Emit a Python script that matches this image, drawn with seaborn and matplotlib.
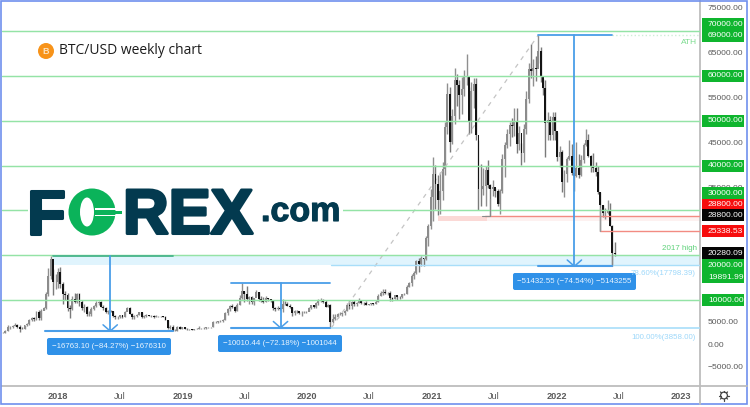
import numpy as np
import pandas as pd
import matplotlib
matplotlib.use('Agg')
import matplotlib.pyplot as plt
import matplotlib.dates as dt
import matplotlib.transforms as mtransforms
import matplotlib.patheffects as pe
from matplotlib.patches import Rectangle, Circle, Ellipse, FancyBboxPatch
import seaborn as sns

# weekly candles, first one is the week of 2017-07-24
first_open = 2700
closes = [2730, 3230, 4070, 4090, 4340, 4580, 4120, 3690, 3660, 4390, 4600, 5680, 5990, 5730, 7360, 5950, 7700, 8250, 11300, 15300, 19100, 14000, 14100,
          16200, 13700, 11500, 11100, 8200, 8100, 10300, 9600, 11400, 9500, 8200, 8500, 6900, 7000, 8000, 8800, 9300, 9700, 8500, 8200, 7300, 7700, 7500, 6500, 6200, 6300, 6700, 6250, 7400, 8200, 7000, 6300, 6400, 6700, 7300, 6200, 6500, 6700, 6600, 6600, 6300, 6450, 6480, 6400, 6370, 5550, 3900, 4000, 3200, 3200, 3980, 3700, 4050,
          3600, 3550, 3540, 3410, 3660, 3610, 3820, 3820, 3900, 3990, 3990, 4090, 5070, 5130, 5270, 5280, 5700, 7050, 8000, 8750, 8550, 7620, 8990, 10600, 11950, 11300, 10200, 10770, 9500, 10400, 11860, 10300, 10150, 9600, 10400, 10300, 10000, 8200, 8140, 8300, 7950, 9250, 9200, 8800, 8500, 7100, 7550, 7500, 7070, 7150, 7250, 7350,
          8180, 8900, 8600, 9370, 9900, 9900, 9660, 8530, 8900, 5200, 5800, 6240, 6860, 6860, 7130, 7550, 8900, 8730, 9680, 9180, 9450, 9750, 9460, 9300, 9000, 9070, 9300, 9200, 9700, 11050, 11680, 11850, 11650, 11700, 10400, 10330, 11080, 10730, 10670, 11360, 11500, 13050, 13760, 15480, 16050, 18680, 18180, 19350, 19170, 23860, 26490, 33000,
          38150, 36000, 32250, 34300, 39250, 48600, 55900, 45200, 51000, 59000, 58000, 55800, 57000, 60000, 60000, 50000, 56600, 58200, 46700, 34800, 34700, 35500, 39000, 35600, 34700, 35300, 34300, 31500, 34300, 41500, 44600, 47000, 49000, 48800, 49900, 44900, 47300, 42700, 48200, 54900, 61500, 61000, 61800, 61500, 65500, 59700, 57300, 49400, 50100, 46700, 50800, 47700,
          41900, 43100, 36300, 38200, 41500, 42200, 38400, 37700, 39400, 37800, 41300, 44500, 45800, 42200, 39700, 39400, 38500, 34000, 31300, 29400, 29500, 29900, 26600, 20500, 20280]
highs = [2900, 3450, 4480, 4370, 4470, 5000, 4700, 4400, 4130, 4470, 4900, 5860, 6170, 6310, 7600, 7880, 8000, 8400, 11800, 17200, 19891, 17000, 15900,
         17200, 17400, 14000, 12000, 11700, 9000, 11000, 11700, 11700, 11700, 10000, 9200, 8800, 7500, 8500, 9000, 9800, 9900, 9900, 8900, 8500, 7800, 7800, 7700, 6800, 6600, 6800, 6800, 7700, 8500, 8400, 7200, 6700, 6900, 7400, 7400, 6700, 6900, 6800, 6700, 6700, 6750, 6600, 6480, 6550, 6500, 5650, 4400, 4400, 3600, 4200, 4300, 4100,
         4100, 3750, 3650, 3600, 3700, 3720, 4180, 3900, 3940, 4000, 4050, 4150, 5350, 5470, 5350, 5650, 5800, 7450, 8350, 8950, 9100, 8800, 9400, 11200, 13880, 12000, 13200, 11000, 10900, 10500, 12300, 11900, 10900, 10800, 10900, 10450, 10200, 10100, 8500, 8800, 8400, 10350, 9800, 9500, 9100, 8600, 7850, 7750, 7450, 7500, 7700, 7500,
         8400, 9000, 8950, 9600, 10200, 10500, 10300, 10000, 9200, 9150, 6900, 6950, 7200, 7450, 7300, 7750, 9450, 10050, 9900, 9950, 9600, 10400, 9980, 9580, 9800, 9270, 9470, 9400, 9950, 11420, 12100, 12480, 12400, 11800, 12050, 10800, 11180, 11000, 10950, 11500, 11720, 13350, 14100, 15950, 16500, 18900, 19500, 19900, 19450, 24300, 27000, 34800,
         42000, 40100, 37900, 38600, 40800, 49700, 58400, 57500, 52600, 61800, 60400, 59000, 59800, 61300, 64900, 57500, 58500, 59500, 59600, 45800, 40400, 39500, 40000, 41300, 35800, 36700, 35100, 34800, 34800, 42600, 45300, 48100, 49800, 50500, 52900, 52900, 48800, 45000, 49300, 56500, 62900, 67000, 63700, 64300, 69000, 66400, 59300, 59000, 51900, 51000, 51900, 52000,
         47500, 44400, 43500, 38900, 42000, 45800, 44700, 39800, 45300, 42500, 42300, 45000, 48200, 47000, 42400, 42900, 40700, 39900, 34200, 31300, 30500, 32300, 31700, 26800, 23000]
lows = [2620, 2650, 3210, 3600, 3900, 4320, 3850, 3000, 3500, 3640, 4200, 4550, 5400, 5360, 5700, 5500, 5600, 7800, 8100, 11000, 14700, 11200, 12600,
        12800, 12800, 9200, 10000, 7700, 6000, 7900, 9300, 9400, 8700, 7800, 7300, 6600, 6450, 6550, 7800, 8600, 8900, 8400, 7800, 7250, 7000, 7300, 6300, 5800, 5780, 6100, 6100, 6200, 7700, 6900, 5900, 5900, 6300, 6650, 6100, 6150, 6200, 6400, 6250, 6000, 6300, 6350, 6250, 6300, 5500, 3600, 3500, 3150, 3150, 3200, 3550, 3640,
        3500, 3480, 3430, 3350, 3350, 3570, 3610, 3680, 3690, 3680, 3860, 3850, 4050, 5010, 4950, 5180, 5230, 5700, 6800, 7500, 8300, 7450, 7500, 8900, 10350, 9700, 9900, 9100, 9200, 9050, 10900, 9750, 9500, 9350, 9600, 9900, 9650, 7900, 7700, 7800, 7800, 7300, 8850, 8700, 8300, 6550, 6800, 7150, 7000, 6450, 7050, 7150,
        7650, 8050, 8280, 8300, 9000, 9700, 9300, 8500, 8400, 3858, 4900, 5700, 6000, 6700, 6500, 6750, 7600, 8100, 8150, 8800, 8650, 9300, 9150, 8900, 8850, 8950, 9050, 9050, 9150, 9650, 10950, 11200, 11300, 11150, 9900, 9850, 10200, 10150, 10350, 10500, 11200, 11400, 12900, 13200, 14800, 15800, 16200, 17600, 17600, 19000, 22000, 25800,
        27700, 30400, 28900, 29300, 32300, 37900, 47000, 43000, 44900, 49300, 53300, 50400, 51500, 55500, 58000, 47000, 47200, 52900, 45700, 30000, 31000, 33400, 31000, 34900, 28800, 33300, 33000, 31100, 29300, 33900, 37500, 43800, 44400, 46400, 46500, 42800, 43400, 40200, 40700, 47100, 53900, 59500, 57800, 58900, 62800, 58500, 55700, 42000, 45700, 45600, 45600, 45700,
        41000, 39700, 34000, 32900, 36300, 41200, 38000, 34400, 37500, 37200, 37600, 40500, 44400, 41900, 38600, 38600, 37600, 33700, 25400, 28600, 28000, 29300, 26600, 17700, 19900]

green_levels = [70000, 60000, 50000, 40000, 30000, 20000, 10000]
ath = 69000
high_2017 = 19891.99
low_2020 = 3858.00
fib_786 = 17798.39
red_level = 28800
red_level2 = 25338.53
last_close = 20280.09

# measured moves: start, end, arrow date, top, bottom, label
move_starts = ['2017-11-24', '2019-05-24', '2021-11-08']
move_ends = ['2018-12-05', '2020-03-08', '2022-06-13']
move_mids = ['2018-06-03', '2019-10-15', '2022-02-22']
move_tops = [19891.99, 13880, 69000]
move_bottoms = [3128.89, 3869.56, 17567.45]
move_labels = ['\u221216763.10 (\u221284.27%) \u22121676310',
               '\u221210010.44 (\u221272.18%) \u22121001044',
               '\u221251432.55 (\u221274.54%) \u22125143255']

tick_dates = ['2018-01-01', '2018-07-01', '2019-01-01', '2019-07-01', '2020-01-01', '2020-07-01',
              '2021-01-01', '2021-07-01', '2022-01-01', '2022-07-01', '2023-01-01']
tick_labels = ['2018', 'Jul', '2019', 'Jul', '2020', 'Jul', '2021', 'Jul', '2022', 'Jul', '2023']

# axis labels on the right: text, height on the axis, box colour
plain_labels = ['75000.00', '65000.00', '55000.00', '45000.00', '35000.00', '5000.00', '0.00', '\u22125000.00']
plain_pos = [75000, 65000, 55000, 45000, 35000, 5000, 0, -5000]
box_labels = ['70000.00', '69000.00', '60000.00', '50000.00', '40000.00', '30000.00', '28800.00', '28800.00',
              '25338.53', '20280.09', '20000.00', '19891.99', '10000.00']
box_pos = [71500, 68900, 60000, 50000, 40000, 33800, 31300, 28900, 25338, 20500, 17800, 15100, 10000]
box_cols = ['g', 'g', 'g', 'g', 'g', 'g', 'r', 'k', 'r', 'k', 'g', 'g', 'g']

sns.set_theme(style='white')
plt.rcParams['font.family'] = ['Liberation Sans', 'DejaVu Sans']

GREEN = '#94e3a6'
BLUE = '#4a9ee8'
LIGHTBLUE = '#a8def9'
RED = '#f28b82'
GREY = '#5a5a5a'

fig = plt.figure(figsize=(7.5, 4.07), dpi=100)
ax = fig.add_axes([2/750, 1-386/407, 698/750, 385/407])
ax.set_facecolor('white')
px = mtransforms.Affine2D().scale(1, -1).translate(0, 407)

ax.set_xlim(dt.date2num(pd.Timestamp('2017-07-21')), dt.date2num(pd.Timestamp('2023-02-25')))
ax.set_ylim(-9100, 76650)
x_end = ax.get_xlim()[1]

candles = pd.DataFrame({'close': closes, 'high': highs, 'low': lows})
candles['open'] = candles['close'].shift(1).fillna(first_open)
candles['date'] = dt.date2num(pd.date_range('2017-07-24', periods=len(candles), freq='7D'))
up = candles[candles['close'] >= candles['open']]
down = candles[candles['close'] < candles['open']]

ax.vlines(up['date'], up['low'], up['high'], color='#8f8f8f', lw=1.0, zorder=2)
ax.bar(up['date'], up['close']-up['open'], bottom=up['open'], width=5.6, color='#8c8c8c', linewidth=0, zorder=2)
ax.vlines(down['date'], down['low'], down['high'], color='#7a7a7a', lw=1.0, zorder=2)
ax.bar(down['date'], down['close']-down['open'], bottom=down['open'], width=5.6, color='#141414', linewidth=0, zorder=3)


def d(s):
    return dt.date2num(pd.Timestamp(s))


# shaded zones
ax.fill_between([d('2017-12-17'), x_end], fib_786, 20000, color='#e0f4fd', lw=0, zorder=1)
ax.fill_between([d('2021-01-17'), d('2021-06-10')], 27700, red_level, color='#fbd9d6', lw=0, zorder=1)
ax.fill_between([d('2021-06-10'), x_end], 27700, red_level, color='#fdf1f0', lw=0, zorder=1)

# green levels
levels = pd.DataFrame({'level': np.repeat(green_levels, 2),
                       'date': [ax.get_xlim()[0], x_end]*len(green_levels)})
sns.lineplot(data=levels, x='date', y='level', units='level', estimator=None,
             color=GREEN, lw=1.05, ax=ax, zorder=4, legend=False)

# fib lines and dashed trend
sns.lineplot(x=[d('2020-03-12'), x_end], y=[fib_786, fib_786], color=LIGHTBLUE, lw=1.0, ax=ax, zorder=4)
sns.lineplot(x=[d('2020-03-12'), x_end], y=[low_2020, low_2020], color=LIGHTBLUE, lw=1.2, ax=ax, zorder=4)
ax.plot([d('2020-03-12'), d('2021-11-08')], [low_2020, ath], color='#c4c4c4', lw=0.9, ls=(0, (3.5, 4)), zorder=2)

# red levels and the grey steps beside them
ax.plot([d('2021-06-05'), x_end], [red_level, red_level], color=RED, lw=1.0, zorder=4)
ax.plot([d('2022-05-08'), x_end], [red_level2, red_level2], color=RED, lw=1.0, zorder=4)
ax.plot([d('2021-05-27'), d('2021-06-20'), d('2021-06-20')], [red_level, red_level, 32500], color='#8a8a8a', lw=0.8, zorder=4)
ax.plot([d('2022-05-08'), d('2022-05-08')], [red_level2, 30500], color='#9a9a9a', lw=0.9, zorder=4)
ax.plot([d('2022-06-13'), d('2022-06-13')], [move_bottoms[2], 20000], color='#8a8a8a', lw=0.9, zorder=4)

# ATH line
ax.plot([d('2022-06-13'), x_end], [ath, ath], color='#cdeed6', lw=1.0, ls=':', zorder=4)

# measured moves
for i in range(3):
    s, e, m = d(move_starts[i]), d(move_ends[i]), d(move_mids[i])
    top, bot = move_tops[i], move_bottoms[i]
    top_col = '#49b58c' if i == 0 else BLUE
    top_s = d('2017-12-17') if i == 0 else s
    ax.plot([top_s, e], [top, top], color=top_col, lw=1.3, zorder=5)
    ax.plot([s, e], [bot, bot], color=BLUE, lw=1.5, zorder=5)
    ax.plot([m, m], [top, bot], color=BLUE, lw=1.3, zorder=5)
    ax.plot([m-21, m, m+21], [bot+1400, bot, bot+1400], color=BLUE, lw=1.1, zorder=5)

# measure label boxes
box_rects = [(47, 338, 124, 17), (218, 335, 124, 17), (513, 273, 123, 17)]
for (bx, by, bw, bh), lab in zip(box_rects, move_labels):
    ax.add_patch(FancyBboxPatch((bx+1, by+1), bw-2, bh-2, boxstyle='round,pad=1,rounding_size=2',
                                transform=px, fc='#2f91e8', ec='none', zorder=6, clip_on=False))
    ax.text(bx+bw/2, by+bh/2, lab, transform=px, color='#e8f4ff', fontsize=5.7, ha='center', va='center', zorder=7)

# small texts in the chart
blend = mtransforms.blended_transform_factory(px, ax.transData)
ax.text(697, 67400, 'ATH', transform=blend, color='#7ddc90', fontsize=6, ha='right', va='center', zorder=7)
ax.text(697, 21600, '2017 high', transform=blend, color='#5ed27a', fontsize=5.8, ha='right', va='center', zorder=7)
ax.text(696, 16700, '78.60%(17798.39)', transform=blend, color='#9ed8fa', fontsize=5.7, ha='right', va='top', zorder=7)
ax.text(696, 2400, '100.00%(3858.00)', transform=blend, color='#9ed8fa', fontsize=5.7, ha='right', va='top', zorder=7)

# right scale
for lab, pos in zip(plain_labels, plain_pos):
    ax.text(708, pos, lab, transform=blend, color=GREY, fontsize=6.1, va='center', ha='left', clip_on=False)
box_fc = {'g': '#0fb52e', 'r': '#f70d0d', 'k': '#050505'}
for lab, pos, col in zip(box_labels, box_pos, box_cols):
    ax.add_patch(Rectangle((702, pos-1330), 42, 2660, transform=blend, fc=box_fc[col], ec='none', zorder=8, clip_on=False))
    ax.text(708, pos, lab, transform=blend, color='white', fontsize=6.1, va='center', ha='left', zorder=9, clip_on=False)

# bottom axis
ax.set_xticks([d(t) for t in tick_dates])
ax.set_xticklabels(tick_labels)
ax.set_yticks([])
ax.set_xlabel('')
ax.set_ylabel('')
ax.tick_params(axis='x', length=0, pad=4, labelsize=6.6, labelcolor=GREY)
for lab, txt in zip(ax.get_xticklabels(), tick_labels):
    if txt != 'Jul':
        lab.set_fontweight('bold')
for side in ['top', 'left']:
    ax.spines[side].set_visible(False)
for side in ['bottom', 'right']:
    ax.spines[side].set_color('#bdbdbd')
    ax.spines[side].set_linewidth(1.3)
fig.add_artist(plt.Line2D([700, 747], [386, 386], transform=px, color='#bdbdbd', lw=1.3))
fig.add_artist(plt.Line2D([700, 700], [386, 404], transform=px, color='#bdbdbd', lw=1.3))

# gear
fig.add_artist(Circle((724, 395.5), 3.4, transform=px, fc='white', ec='#444444', lw=0.9))
for a in np.linspace(0, 2*np.pi, 8, endpoint=False):
    fig.add_artist(plt.Line2D([724+3.4*np.cos(a), 724+5*np.cos(a)], [395.5+3.4*np.sin(a), 395.5+5*np.sin(a)],
                              transform=px, color='#444444', lw=0.9))

# title with coin
ax.add_patch(Circle((46, 51), 8, transform=px, fc='#f7931a', ec='none', zorder=6, clip_on=False))
ax.text(46, 51.5, 'B', transform=px, color='#fde3bf', fontsize=6.5, fontweight='bold', ha='center', va='center', zorder=7)
ax.text(59, 51, 'BTC/USD weekly chart', transform=px, color='#1c1c1c', fontsize=10, family='Open Sans',
        ha='left', va='center', zorder=7)

# logo
NAVY = '#033a4f'
LOGO_GREEN = '#0bb35a'
thick = [pe.withStroke(linewidth=2.2, foreground=NAVY)]
ax.add_patch(Rectangle((28, 182), 315, 60, transform=px, fc='white', ec='none', zorder=5))
ax.text(27, 233.5, 'F', transform=px, color=NAVY, fontsize=45, fontweight='bold', ha='left', va='baseline',
        zorder=7, path_effects=thick)
ax.add_patch(Ellipse((92, 212), 47, 47, transform=px, fc=LOGO_GREEN, ec='none', zorder=7))
ax.add_patch(Ellipse((87, 212), 14, 29, transform=px, fc='white', ec='none', zorder=8))
ax.add_patch(Rectangle((95, 208), 22, 1.8, transform=px, fc='white', ec='none', zorder=8))
ax.add_patch(Rectangle((95, 214.5), 22, 1.8, transform=px, fc='white', ec='none', zorder=8))
ax.add_patch(Rectangle((100, 210.5), 22, 3.2, transform=px, fc=LOGO_GREEN, ec='none', zorder=8))
ax.text(123, 233.5, 'REX', transform=px, color=NAVY, fontsize=45.5, fontweight='bold', ha='left', va='baseline',
        zorder=7, path_effects=thick)
ax.text(261, 221, '.com', transform=px, color=NAVY, fontsize=24.5, fontweight='bold', ha='left', va='baseline',
        zorder=7, path_effects=[pe.withStroke(linewidth=0.8, foreground=NAVY)])

# blue frame
fig.add_artist(Rectangle((1, 0.5), 746, 403.5, transform=px, fc='none', ec='#7090ee', lw=1.2))

fig.savefig('out.png', dpi=100)
